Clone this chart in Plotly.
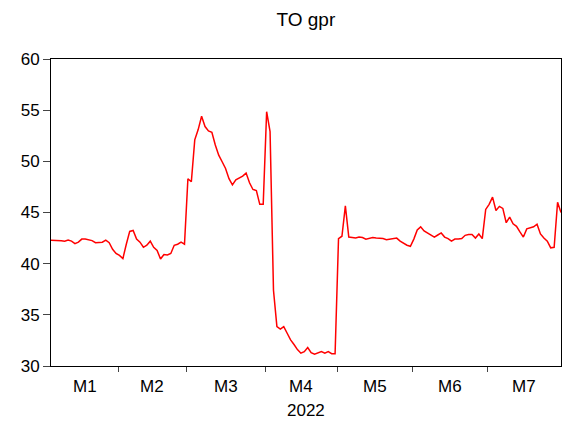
import plotly.graph_objects as go

values = [
    42.3, 42.3, 42.3, 42.25, 42.2, 42.3, 42.2, 41.95, 42.1, 42.4,
    42.4, 42.35, 42.25, 42.05, 42.1, 42.1, 42.3, 42.05, 41.4, 41.0,
    40.8, 40.5, 41.9, 43.15, 43.25, 42.4, 42.1, 41.6, 41.8, 42.2,
    41.6, 41.3, 40.45, 40.9, 40.85, 41.0, 41.8, 41.9, 42.1, 41.9,
    48.3, 48.0, 52.1, 53.1, 54.4, 53.4, 52.97, 52.84, 51.6, 50.6,
    49.96, 49.3, 48.3, 47.7, 48.2, 48.35, 48.55, 48.85, 47.9, 47.25,
    47.15, 45.8, 45.8, 54.85, 52.9, 37.4, 33.85, 33.6, 33.85, 33.2,
    32.55, 32.1, 31.6, 31.25, 31.4, 31.8, 31.3, 31.15, 31.3, 31.4,
    31.25, 31.4, 31.2, 31.2, 42.45, 42.68, 45.65, 42.6, 42.55, 42.5,
    42.6, 42.55, 42.4, 42.5, 42.55, 42.5, 42.5, 42.45, 42.35, 42.4,
    42.4, 42.5, 42.2, 42.0, 41.8, 41.7, 42.4, 43.3, 43.6, 43.2,
    43.0, 42.8, 42.6, 42.8, 43.0, 42.6, 42.45, 42.2, 42.4, 42.4,
    42.45, 42.77, 42.85, 42.85, 42.5, 42.9, 42.45, 45.3, 45.8, 46.5,
    45.2, 45.6, 45.4, 44.0, 44.55, 43.9, 43.65, 43.1, 42.6, 43.4,
    43.5, 43.6, 43.85, 42.9, 42.5, 42.2, 41.55, 41.6, 46.0, 45.0,
]
month_labels = ["M1", "M2", "M3", "M4", "M5", "M6", "M7"]
month_counts = [20, 20, 23, 21, 22, 22, 22]
year_label = "2022"
title_text = "TO gpr"

x = list(range(len(values)))
n = len(values)

starts = []
s = 0
for c in month_counts:
    starts.append(s)
    s += c
bounds = [b - 0.4 for b in starts[1:]]
edges = [0] + bounds + [n - 1]
mids = [(edges[i] + edges[i + 1]) / 2 for i in range(len(month_labels))]

fig = go.Figure()
fig.add_trace(go.Scatter(x=x, y=values, mode="lines",
                         line=dict(color="#FF0000", width=1.5),
                         showlegend=False, hoverinfo="skip"))

font_family = "Liberation Sans, Arial, sans-serif"

fig.update_layout(
    width=562, height=425,
    margin=dict(l=51, r=1, t=59, b=59),
    paper_bgcolor="white", plot_bgcolor="white",
    font=dict(family=font_family, size=17, color="black"),
    title=dict(text=title_text, x=(51 + 560.7) / 2 / 562, xanchor="center",
               y=1 - 19 / 425, yanchor="middle",
               font=dict(size=19, family=font_family, color="black")),
    xaxis=dict(range=[0, n - 1], showgrid=False, zeroline=False,
               showline=True, mirror=True, linecolor="black", linewidth=1,
               tickvals=bounds, ticktext=["" for _ in bounds],
               ticks="outside", ticklen=5, tickcolor="#444", tickwidth=1),
    yaxis=dict(range=[30, 60], dtick=5, showgrid=False, zeroline=False,
               showline=True, mirror=True, linecolor="black", linewidth=1,
               ticks="outside", ticklen=7, tickcolor="#444", tickwidth=1,
               tickfont=dict(size=17, family=font_family, color="black")),
)

for lab, m in zip(month_labels, mids):
    fig.add_annotation(x=m, xref="x", y=0, yref="paper", yshift=-20,
                       yanchor="middle", text=lab, showarrow=False,
                       font=dict(size=17, family=font_family, color="black"))
fig.add_annotation(x=(n - 1) / 2, xref="x", y=0, yref="paper", yshift=-44,
                   yanchor="middle", text=year_label, showarrow=False,
                   font=dict(size=17, family=font_family, color="black"))

fig.write_html("out.html",
               config={"displayModeBar": False},
               post_script="document.body.style.margin='0px';")
